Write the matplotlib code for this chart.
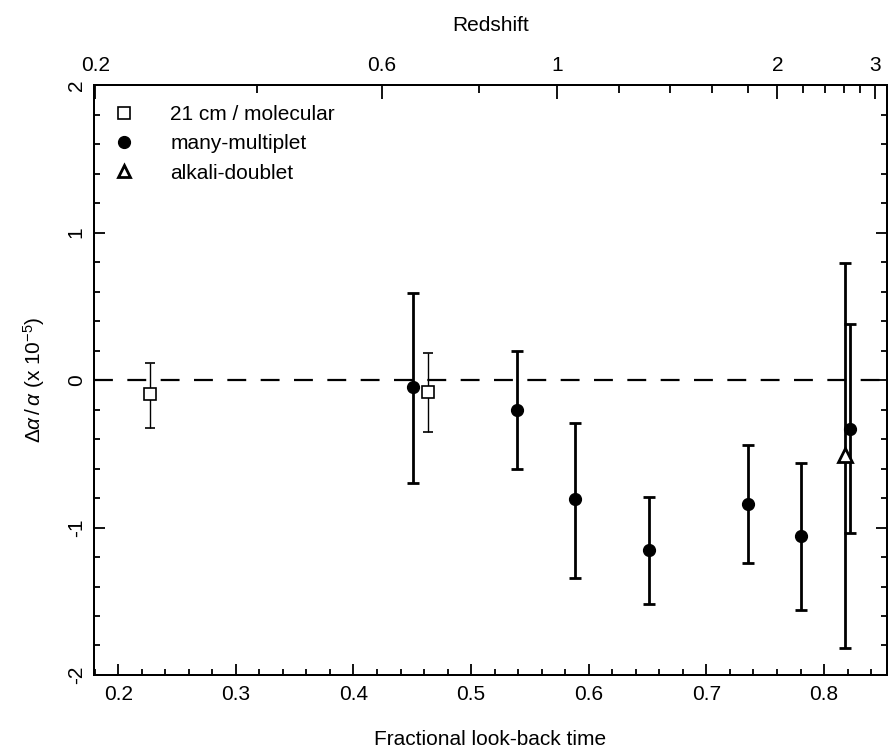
import numpy as np
import matplotlib
matplotlib.use("Agg")
import matplotlib.pyplot as plt
from matplotlib.lines import Line2D
from matplotlib.ticker import MultipleLocator, FixedLocator

plt.rcParams["font.family"] = ["Liberation Sans", "DejaVu Sans"]
plt.rcParams["mathtext.fontset"] = "custom"
plt.rcParams["mathtext.rm"] = "Liberation Sans"
plt.rcParams["mathtext.it"] = "Liberation Sans:italic"

# 21 cm / molecular points
mol_t = [0.227, 0.463]
mol_y = [-0.095, -0.08]
mol_hi = [0.115, 0.18]
mol_lo = [-0.325, -0.35]

# many-multiplet points
mm_t = [0.451, 0.539, 0.588, 0.651, 0.735, 0.780, 0.822]
mm_y = [-0.05, -0.20, -0.81, -1.15, -0.84, -1.06, -0.33]
mm_hi = [0.59, 0.20, -0.29, -0.79, -0.44, -0.56, 0.38]
mm_lo = [-0.70, -0.60, -1.34, -1.52, -1.24, -1.56, -1.04]

# alkali-doublet point
ad_t = [0.8175]
ad_y = [-0.51]
ad_hi = [0.79]
ad_lo = [-1.82]

# redshift ticks for the top axis
z_major = [0.2, 0.6, 1, 2, 3]
z_minor = [0.4, 0.8, 1.2, 1.4, 1.6, 1.8, 2.2, 2.4, 2.6, 2.8]
y_ticks = [-2, -1, 0, 1, 2]


def lookback_frac(z, om=0.3, ol=0.7):
    # fractional look-back time in a flat LCDM universe
    a = 1.0 / (1.0 + np.asarray(z, dtype=float))
    k = np.sqrt(ol / om)
    return 1.0 - np.arcsinh(k * a ** 1.5) / np.arcsinh(k)


def err(y, hi, lo):
    y = np.asarray(y)
    return [y - np.asarray(lo), np.asarray(hi) - y]


fs = 15

fig = plt.figure(figsize=(8.88, 7.49), dpi=100)
ax = fig.add_axes([0.1059, 0.0988, 0.8930, 0.7877])

ax.axhline(0, color="black", lw=1.6, dashes=(8.5, 6.5), zorder=1)

ax.errorbar(mol_t, mol_y, yerr=err(mol_y, mol_hi, mol_lo), fmt="s",
            mfc="white", mec="black", mew=1.2, ms=8.5, color="black",
            elinewidth=1.0, capsize=3.5, capthick=1.0, zorder=3)
ax.errorbar(mm_t, mm_y, yerr=err(mm_y, mm_hi, mm_lo), fmt="o",
            mfc="black", mec="black", ms=8.5, color="black",
            elinewidth=2.0, capsize=4, capthick=2.0, zorder=3)
ax.errorbar(ad_t, ad_y, yerr=err(ad_y, ad_hi, ad_lo), fmt="^",
            mfc="white", mec="black", mew=2.0, ms=10, color="black",
            elinewidth=2.0, capsize=4, capthick=2.0, zorder=4)

ax.set_xlim(0.1795, 0.8535)
ax.set_ylim(-2.0, 2.0)

ax.xaxis.set_major_locator(MultipleLocator(0.1))
ax.xaxis.set_minor_locator(MultipleLocator(0.02))
ax.set_yticks(y_ticks)
ax.set_yticklabels([str(v) for v in y_ticks], rotation=90, va="center")
ax.yaxis.set_minor_locator(MultipleLocator(0.2))

ax.tick_params(which="both", direction="in", width=1.3, labelsize=fs,
               right=True, top=False)
ax.tick_params(which="major", length=8)
ax.tick_params(which="minor", length=4.5)
ax.tick_params(axis="x", pad=7)
ax.tick_params(axis="y", pad=6)

for s in ax.spines.values():
    s.set_linewidth(1.4)

ax.set_xlabel("Fractional look-back time", fontsize=fs, labelpad=19)
ax.set_ylabel(r"$\Delta\alpha\,/\,\alpha$ (x 10$^{-5}$)", fontsize=fs,
              labelpad=14)

top = ax.twiny()
top.set_xlim(ax.get_xlim())
top.xaxis.set_major_locator(FixedLocator(lookback_frac(z_major)))
top.xaxis.set_minor_locator(FixedLocator(lookback_frac(z_minor)))
top.set_xticklabels([str(z) for z in z_major])
top.tick_params(which="both", direction="in", width=1.3, labelsize=fs, pad=7)
top.tick_params(which="major", length=10)
top.tick_params(which="minor", length=6)
top.set_xlabel("Redshift", fontsize=fs, labelpad=18)
for s in top.spines.values():
    s.set_linewidth(1.4)

handles = [
    Line2D([], [], ls="none", marker="s", mfc="white", mec="black", mew=1.2, ms=8.5),
    Line2D([], [], ls="none", marker="o", mfc="black", mec="black", ms=8.5),
    Line2D([], [], ls="none", marker="^", mfc="white", mec="black", mew=2.0, ms=9),
]
labels = ["21 cm / molecular", "many-multiplet", "alkali-doublet"]
ax.legend(handles, labels, loc="upper left", frameon=False, fontsize=fs,
          handlelength=1.0, handletextpad=1.7, labelspacing=0.5,
          borderaxespad=0.4, borderpad=0.55)

fig.savefig("out.png", dpi=100)
